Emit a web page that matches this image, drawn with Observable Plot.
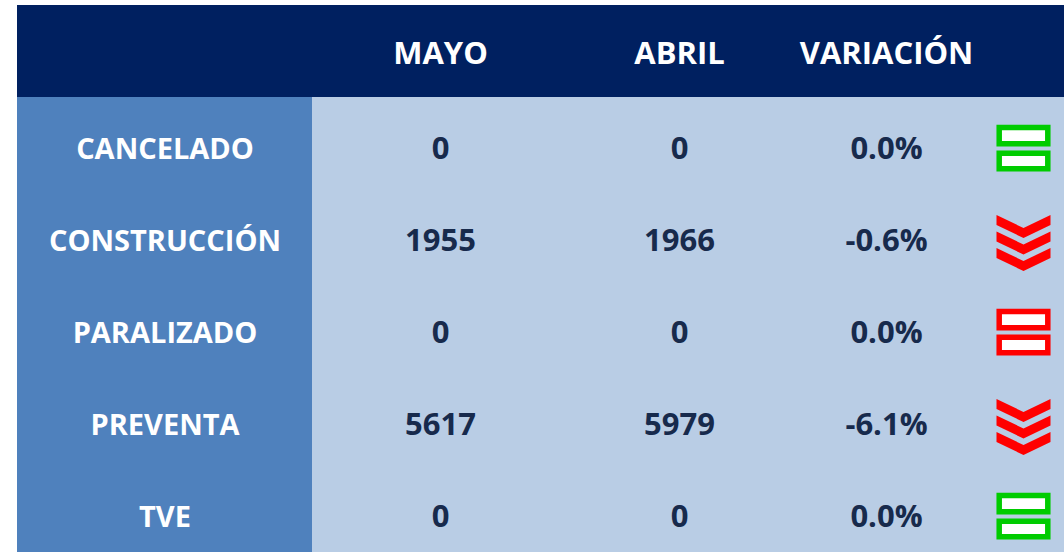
<!DOCTYPE html>
<html>
<head>
<meta charset="utf-8">
<script src="https://cdn.jsdelivr.net/npm/d3@7"></script>
<script src="https://cdn.jsdelivr.net/npm/@observablehq/plot@0.6"></script>
<style>
  html, body { margin: 0; padding: 0; background: #ffffff; }
  #chart svg { display: block; }
</style>
</head>
<body>
<div id="chart"></div>
<script>
// ---- data ----
const headerLabels = ["", "MAYO", "ABRIL", "VARIACIÓN", ""];
const categories = ["CANCELADO", "CONSTRUCCIÓN", "PARALIZADO", "PREVENTA", "TVE"];
const mayo = [0, 1955, 0, 5617, 0];
const abril = [0, 1966, 0, 5979, 0];
const variacion = [0.0, -0.6, 0.0, -6.1, 0.0];
const icono = ["igual", "baja", "igual", "baja", "igual"];
const estado = ["estable", "baja", "alerta", "baja", "estable"];

const HEADER = "__header__";
const rows = categories.map((c, i) => ({
  cat: c, mayo: mayo[i], abril: abril[i], variacion: variacion[i],
  icono: icono[i], estado: estado[i]
}));
const headerCells = headerLabels.map((t, i) => ({col: i, text: t})).filter(d => d.text);

// custom symbols (drawn relative to r)
const equalSymbol = {
  draw(ctx, size) {
    const s = Math.sqrt(size / Math.PI);
    const w = 0.9 * s;
    const bars = [[-0.78, -0.175], [0.175, 0.75]];
    for (const [a, b] of bars) {
      ctx.moveTo(-w, a * s); ctx.lineTo(w, a * s); ctx.lineTo(w, b * s); ctx.lineTo(-w, b * s); ctx.closePath();
    }
  }
};
const chevronSymbol = {
  draw(ctx, size) {
    const s = Math.sqrt(size / Math.PI);
    const notch = 13 / 27, thick = 10 / 27;
    for (const t0 of [-28.5 / 27, -12 / 27, 4.5 / 27]) {
      ctx.moveTo(-s, t0 * s);
      ctx.lineTo(0, (t0 + notch) * s);
      ctx.lineTo(s, t0 * s);
      ctx.lineTo(s, (t0 + thick) * s);
      ctx.lineTo(0, (t0 + notch + thick) * s);
      ctx.lineTo(-s, (t0 + thick) * s);
      ctx.closePath();
    }
  }
};

const font = "'Open Sans', 'DejaVu Sans', sans-serif";
const fsLabel = 29;
const fsHead = 31;
const fsNum = 31;
const numColor = "#172a4c";

const chart = Plot.plot({
  width: 1064,
  height: 552,
  margin: 0,
  style: {fontFamily: font, background: "transparent"},
  x: {type: "linear", domain: [0, 1, 2, 3, 4, 5], range: [17, 312, 568, 790, 982, 1064], axis: null},
  y: {type: "band", domain: [HEADER, ...categories], range: [4, 557], padding: 0, axis: null},
  color: {domain: ["estable", "alerta", "baja"], range: ["#00CC00", "#FF0000", "#FF0000"]},
  marks: [
    Plot.barX([HEADER], {x1: 0, x2: 5, y: d => d, fill: "#002060", inset: 0}),
    Plot.barX(rows, {x1: 0, x2: 1, y: "cat", fill: "#4F81BD", inset: 0}),
    Plot.barX(rows, {x1: 1, x2: 5, y: "cat", fill: "#B9CDE5", inset: 0}),
    Plot.text(headerCells, {x: d => d.col + 0.5, y: () => HEADER, text: "text", fill: "white",
      fontSize: fsHead, fontWeight: "bold", dy: 3}),
    Plot.text(rows, {x: 0.5, y: "cat", text: "cat", fill: "white", fontSize: fsLabel, fontWeight: "bold", dy: 6}),
    Plot.text(rows, {x: 1.5, y: "cat", text: d => String(d.mayo), fill: numColor, fontSize: fsNum, fontWeight: "bold", dy: 6}),
    Plot.text(rows, {x: 2.5, y: "cat", text: d => String(d.abril), fill: numColor, fontSize: fsNum, fontWeight: "bold", dy: 6}),
    Plot.text(rows, {x: 3.5, y: "cat", text: d => d.variacion.toFixed(1) + "%", fill: numColor, fontSize: fsNum, fontWeight: "bold", dy: 6}),
    Plot.dot(rows, {filter: d => d.icono === "igual", x: 4.5, y: "cat", r: 27, symbol: equalSymbol,
      fill: "white", stroke: "estado", strokeWidth: 5.5, dy: 5}),
    Plot.dot(rows, {filter: d => d.icono === "baja", x: 4.5, y: "cat", r: 27, symbol: chevronSymbol,
      fill: "estado", stroke: "none", dy: 8})
  ]
});
document.getElementById("chart").appendChild(chart);
</script>
</body>
</html>
